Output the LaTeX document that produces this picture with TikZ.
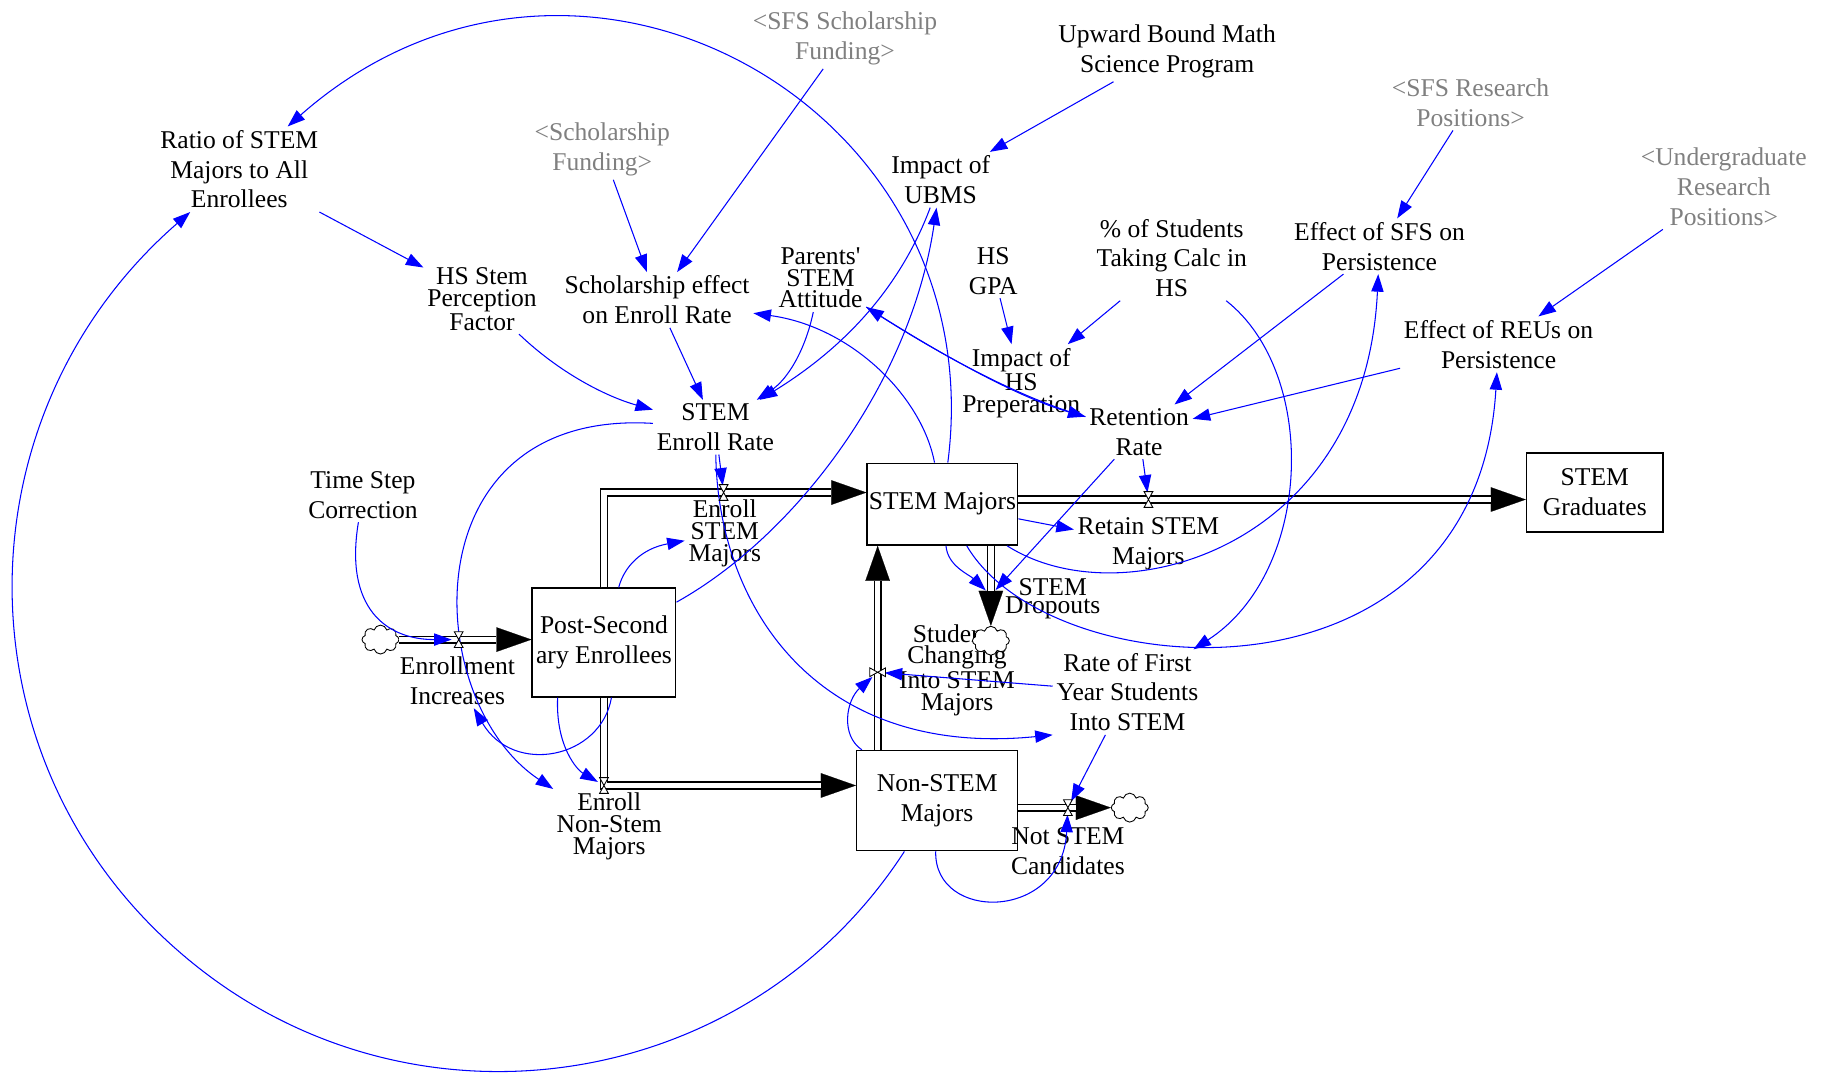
\documentclass[tikz,border=0pt]{standalone}
\usepackage{fontspec}
\setmainfont{Liberation Serif}
\usetikzlibrary{arrows.meta,shapes.symbols,shapes.geometric}
\tikzstyle{aux}=[align=center, inner sep=2pt, font=\fontsize{14.6}{17}\selectfont]
\tikzstyle{auxtight}=[aux, font=\fontsize{14.6}{12.5}\selectfont]
\tikzstyle{ghost}=[aux, text=black!50]
\tikzstyle{stock}=[draw, line width=0.8pt, align=center, inner sep=0pt, font=\fontsize{14.6}{17}\selectfont]
\tikzstyle{cloudsrc}=[cloud, draw, fill=white, cloud puffs=8, cloud ignores aspect, minimum width=0.74cm, minimum height=0.58cm, inner sep=0pt, line width=0.5pt]
\tikzstyle{link}=[draw=blue, line width=0.6pt, -{Triangle[length=10pt,width=7pt]}]
\tikzstyle{tovalve}=[shorten >=4pt]
\tikzstyle{flowtip}=[draw, line width=0.1pt, -{Triangle[length=20pt,width=14pt]}]
\tikzstyle{flowline}=[draw, double, double distance=3pt, line width=0.8pt, shorten >=20pt]
\tikzstyle{valvebox}=[draw, fill=white, line width=0.5pt]
\newcommand{\flowpath}[1]{\path[flowtip] #1; \path[flowline] #1;}

\begin{document}
\begin{tikzpicture}[x=0.0234cm, y=-0.0234cm]
\useasboundingbox (0,0) rectangle (1568,920);

% First the auxiliary variables
\foreach \pos/\name/\lbl in {{(205,145)/ratio/{Ratio of STEM\\Majors to All\\Enrollees}},
    {(1000,44)/ubmsprog/{Upward Bound Math\\Science Program}}, {(806,154)/impubms/{Impact of\\UBMS}},
    {(563,257)/scheff/{Scholarship effect\\on Enroll Rate}}, {(851,232)/hsgpa/{HS\\GPA}},
    {(1004,221)/calc/{\% of Students\\Taking Calc in\\HS}}, {(1182,211)/effsfs/{Effect of SFS on\\Persistence}},
    {(1284,295)/effreu/{Effect of REUs on\\Persistence}}, {(976,370)/retrate/{Retention\\Rate}},
    {(613,366)/enrollrate/{STEM\\Enroll Rate}}, {(311,424)/timestep/{Time Step\\Correction}},
    {(392,583)/enrollinc/{Enrollment\\Increases}}, {(984,466)/retain/{Retain STEM\\Majors}},
    {(966,593)/firstyr/{Rate of First\\Year Students\\Into STEM}}, {(915,729)/notstem/{Not STEM\\Candidates}}}
  \node[aux] (\name) at \pos {\lbl};

\foreach \pos/\name/\lbl in {{(413,256)/hsstem/{HS Stem\\Perception\\Factor}},
    {(703,238)/parents/{Parents\textquotesingle\\STEM\\Attitude}}, {(875,328)/imphs/{Impact of\\HS\\Preperation}},
    {(621,457)/enrollstem/{Enroll\\STEM\\Majors}}, {(820,574)/changing/{Students\\Changing\\Into STEM\\Majors}},
    {(522,708)/enrollnon/{Enroll\\Non-Stem\\Majors}}}
  \node[auxtight] (\name) at \pos {\lbl};
\node[aux, font=\fontsize{14.6}{9}\selectfont] (dropouts) at (902,513) {STEM\\Dropouts};

% shadow variables
\foreach \pos/\name/\lbl in {{(516,128)/schfund/{<Scholarship\\Funding>}},
    {(724,33)/sfsfund/{<SFS Scholarship\\Funding>}}, {(1260,88)/sfsres/{<SFS Research\\Positions>}},
    {(1477,160)/ugres/{<Undergraduate\\Research\\Positions>}}}
  \node[ghost] (\name) at \pos {\lbl};

% stocks and clouds
\node[stock, minimum width=3.02cm, minimum height=1.64cm] (stem) at (807.5,432) {STEM Majors};
\node[stock, minimum width=2.74cm, minimum height=1.59cm] (grad) at (1366.5,422) {STEM\\Graduates};
\node[stock, minimum width=2.88cm, minimum height=2.18cm] (post) at (517.5,550.5) {Post-Second\\ary Enrollees};
\node[stock, minimum width=3.23cm, minimum height=2.01cm] (nonstem) at (803,686) {Non-STEM\\Majors};
\node[cloudsrc] (cloudL) at (326,548) {};
\node[cloudsrc] (cloudD) at (849,549) {};
\node[cloudsrc] (cloudR) at (968,692) {};

\coordinate (ivalve) at (393,548);
\coordinate (evalve) at (620,422);
\coordinate (nvalve) at (517.5,673);
\coordinate (cvalve) at (752,576);
\coordinate (rvalve) at (984,428);
\coordinate (xvalve) at (915,692);
\coordinate (dvalve) at (849,510);

% flows
\flowpath{(cloudL.east) -- (ivalve -| post.west)}
\flowpath{(post.north) |- (evalve -| stem.west)}
\flowpath{(post.south) |- (nvalve -| nonstem.west)}
\flowpath{(cvalve |- nonstem.north) -- (cvalve |- stem.south)}
\flowpath{(rvalve -| stem.east) -- (rvalve -| grad.west)}
\flowpath{(cloudD |- stem.south) -- (cloudD.north)}
\flowpath{(xvalve -| nonstem.east) -- (cloudR.west)}

% straight links
\foreach \src/\dst in {ratio/hsstem, schfund/scheff, sfsfund/scheff, scheff/enrollrate, ubmsprog/impubms,
    hsgpa/imphs, calc/imphs, sfsres/effsfs, ugres/effreu, effsfs/retrate, effreu/retrate, stem/retain}
  \path[link] (\src) -- (\dst);
\foreach \src/\dst in {enrollrate/evalve, retrate/rvalve, retrate/dvalve, firstyr/cvalve, firstyr/xvalve}
  \path[link, tovalve] (\src) -- (\dst);

% curved links
\path[link] (stem) .. controls (852,88) and (492,-108) .. (ratio);
\path[link] (nonstem) .. controls (638,941) and (344,982) .. (153,815) .. controls (-38,649) and (-36,355) .. (ratio);
\path[link] (hsstem) .. controls (480,320) and (520,340) .. (enrollrate);
\path[link] (impubms) .. controls (770,250) and (720,300) .. (enrollrate);
\path[link] (parents) .. controls (690,300) and (675,325) .. (enrollrate);
\path[link] (post) .. controls (680,460) and (780,330) .. (impubms);
\path[link] (stem) .. controls (790,340) and (730,280) .. (scheff);
\path[link] (parents) .. controls (800,300) and (870,340) .. (retrate);
\path[link] (retrate) .. controls (870,340) and (800,300) .. (parents);
\path[link, tovalve] (stem) .. controls (812,485) and (830,492) .. (dvalve);
\path[link] (stem) .. controls (960,530) and (1170,470) .. (effsfs);
\path[link] (stem) .. controls (900,590) and (1265,615) .. (effreu);
\path[link] (calc) .. controls (1130,320) and (1125,490) .. (firstyr);
\path[link, tovalve] (nonstem) .. controls (720,630) and (725,600) .. (cvalve);
\path[link] (enrollrate) .. controls (615,520) and (700,650) .. (firstyr.south west);
\path[link] (post) .. controls (535,485) and (550,470) .. (enrollstem);
\path[link, tovalve] ([xshift=-0.93cm]post.south) .. controls (476,640) and (495,660) .. (nvalve);
\path[link] ([xshift=0.15cm]post.south) .. controls (515,650) and (440,665) .. (enrollinc);
\path[link] (enrollrate) .. controls (350,350) and (360,600) .. (enrollnon);
\path[link, tovalve] (timestep) .. controls (295,520) and (330,548) .. (ivalve);
\path[link, tovalve] (nonstem) .. controls (800,790) and (910,790) .. (xvalve);

% valves
\foreach \v/\r in {ivalve/0, evalve/0, nvalve/0, rvalve/0, xvalve/0, cvalve/90}
  \draw[valvebox, shift={(\v)}, rotate=\r] (-2.5pt,-4.5pt) -- (2.5pt,-4.5pt) -- (-2.5pt,4.5pt) -- (2.5pt,4.5pt) -- cycle;
\end{tikzpicture}
\end{document}
